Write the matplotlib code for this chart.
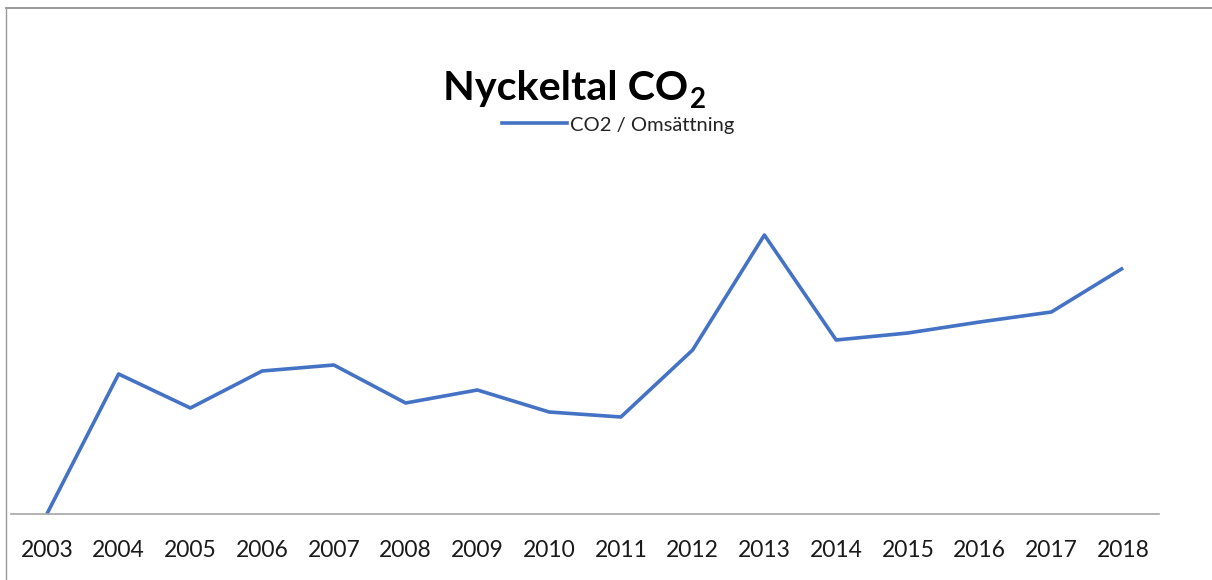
import matplotlib
matplotlib.use('Agg')
import matplotlib.pyplot as plt
from matplotlib.lines import Line2D

plt.rcParams['font.family'] = ['Lato', 'DejaVu Sans']

years = ['2003', '2004', '2005', '2006', '2007', '2008', '2009', '2010',
         '2011', '2012', '2013', '2014', '2015', '2016', '2017', '2018']
co2_oms = [0.00, 1.40, 1.06, 1.43, 1.49, 1.11, 1.24, 1.02,
           0.97, 1.64, 2.79, 1.74, 1.81, 1.92, 2.02, 2.46]

fig = plt.figure(figsize=(12.12, 5.8), dpi=100)
ax = fig.add_axes([11 / 1212, 1 - 514 / 580, 1148 / 1212, 364 / 580])

x = range(len(years))
ax.plot(x, co2_oms, color='#4472C4', lw=2.6, solid_capstyle='butt', clip_on=False)

ax.set_xlim(-0.5, len(years) - 0.5)
ax.set_ylim(0, 3.64)
ax.set_xticks(list(x))
ax.set_xticklabels(years, fontsize=16.5, color='#1a1a1a')
ax.tick_params(axis='x', length=0, pad=19)
ax.set_yticks([])
for s in ['top', 'right', 'left']:
    ax.spines[s].set_visible(False)
ax.spines['bottom'].set_color('#A6A6A6')
ax.spines['bottom'].set_linewidth(1.2)

# title with a real subscript 2
fig.text(688 / 1212, 1 - 100 / 580, 'Nyckeltal CO', fontsize=29.7,
         fontweight='bold', ha='right', va='baseline')
fig.text(690 / 1212, 1 - 108 / 580, '2', fontsize=20,
         fontweight='bold', ha='left', va='baseline')

handle = [Line2D([], [], color='#4472C4', lw=2.6)]
fig.legend(handle, ['CO2 / Omsättning'], loc='center',
           bbox_to_anchor=(618 / 1212, 1 - 125 / 580), frameon=False,
           fontsize=14.5, handlelength=3.2, handletextpad=0.15,
           labelcolor='#222222')

# frame lines at top and left
fig.add_artist(Line2D([6 / 1212, 1], [1 - 8 / 580, 1 - 8 / 580], color='#888888', lw=1.2))
fig.add_artist(Line2D([6 / 1212, 6 / 1212], [0, 1 - 8 / 580], color='#999999', lw=1.0))

fig.savefig('out.png', dpi=100)
